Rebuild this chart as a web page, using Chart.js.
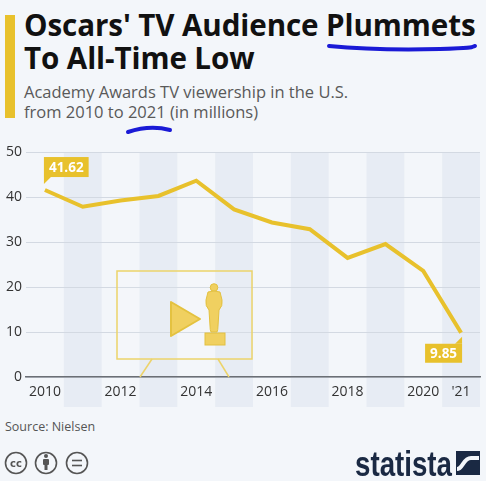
<!DOCTYPE html>
<html>
<head>
<meta charset="utf-8">
<script src="https://cdn.jsdelivr.net/npm/chart.js@4/dist/chart.umd.min.js"></script>
<style>
  html, body { margin: 0; padding: 0; }
  body {
    width: 486px; height: 481px; overflow: hidden;
    background: #f3f6fa; position: relative;
    font-family: "Open Sans", "Noto Sans", sans-serif;
  }
  .bar { position: absolute; left: 5px; top: 15px; width: 10px; height: 103px; background: #e8c12c; }
  h1 {
    position: absolute; left: 24px; top: 8px; margin: 0; white-space: nowrap;
    font-size: 29.6px; line-height: 33px; font-weight: 700; color: #111; letter-spacing: -0.1px;
  }
  .sub {
    position: absolute; left: 24px; top: 82px; margin: 0;
    font-size: 16.5px; line-height: 20px; color: #595959;
  }
  #wrap { position: absolute; left: 0; top: 140px; width: 486px; height: 270px; }
  .src { position: absolute; left: 5px; top: 418px; font-size: 12.5px; color: #555; }
  svg.over { position: absolute; left: 0; top: 0; pointer-events: none; }
</style>
</head>
<body>
<div class="bar"></div>
<h1>Oscars' TV Audience Plummets<br>To All-Time Low</h1>
<p class="sub">Academy Awards TV viewership in the U.S.<br>from 2010 to 2021 (in millions)</p>
<div id="wrap"><canvas id="chart" width="486" height="270"></canvas></div>
<div class="src">Source: Nielsen</div>

<svg class="over" width="486" height="481">
  <!-- hand drawn marks -->
  <path d="M329 46 C 360 49, 400 50, 440 49 S 470 47, 475 46" stroke="#1a1ad6" stroke-width="4" fill="none" stroke-linecap="round"/>
  <path d="M128 132 C 140 128, 155 126, 170 130" stroke="#1a1ad6" stroke-width="4" fill="none" stroke-linecap="round"/>

  <!-- TV illustration -->
  <g stroke="#ecd36a" fill="none" stroke-width="1.5">
    <rect x="117" y="271" width="135" height="88" fill="rgba(255,255,255,0.08)"/>
    <line x1="152" y1="359" x2="140" y2="377"/>
    <line x1="218" y1="359" x2="229" y2="377"/>
  </g>
  <path d="M171 302 L200 319 L171 336 Z" fill="#f0d060" stroke="#e4c240" stroke-width="2" stroke-linejoin="round"/>
  <g fill="#f0d060" stroke="#e2c040" stroke-width="1">
    <circle cx="214" cy="287.5" r="3.8"/>
    <path d="M208 292 Q214 290 220 292 L222 300 Q223 306 219 310 L218 326 Q218 330 217 332 L211 332 Q210 330 210 326 L209 310 Q205 306 206 300 Z"/>
    <rect x="205" y="333" width="20" height="12"/>
  </g>

  <!-- cc icons -->
  <g stroke="#555" stroke-width="1.6" fill="none">
    <circle cx="16" cy="463" r="10.5"/>
    <circle cx="46" cy="463" r="10.5"/>
    <circle cx="77" cy="463" r="10.5"/>
    <line x1="72" y1="460.5" x2="82" y2="460.5"/>
    <line x1="72" y1="465.5" x2="82" y2="465.5"/>
  </g>
  <text x="16" y="467" font-family="DejaVu Sans" font-size="10" font-weight="700" fill="#555" text-anchor="middle">cc</text>
  <g fill="#555">
    <circle cx="46" cy="456" r="2"/>
    <rect x="43" y="459" width="6" height="6" rx="1"/>
    <rect x="44.5" y="464" width="3" height="6"/>
  </g>

  <!-- statista logo -->
  <text x="355" y="476" font-family="Liberation Sans, Arial, sans-serif" font-weight="700" font-size="35"
        fill="#1a2943" textLength="97" lengthAdjust="spacingAndGlyphs">statista</text>
  <rect x="456" y="451" width="24" height="24" fill="#1a2943"/>
  <path d="M457 469 C 463 469, 463 458, 471 458 L 479 458" stroke="#f3f6fa" stroke-width="4" fill="none"/>
</svg>

<script>
const years = ["2010","2011","2012","2013","2014","2015","2016","2017","2018","2019","2020","2021"];
const tickLabels = ["2010","","2012","","2014","","2016","","2018","","2020","'21"];
const viewers = [41.62, 37.9, 39.3, 40.3, 43.7, 37.3, 34.4, 32.9, 26.5, 29.6, 23.6, 9.85];
const yTicks = [0, 10, 20, 30, 40, 50];

const yellow = "#e8c12c";

// shaded columns behind odd years, running down past the tick labels
const bandPlugin = {
  id: "bands",
  beforeDraw(chart) {
    const { ctx, chartArea, scales } = chart;
    const x = scales.x;
    const w = x.getPixelForValue(1) - x.getPixelForValue(0);
    ctx.save();
    ctx.fillStyle = "#e7ecf4";
    years.forEach((y, i) => {
      if (i % 2 === 1) {
        const cx = x.getPixelForValue(i);
        ctx.fillRect(cx - w / 2, chartArea.top, w, chart.height - 3 - chartArea.top);
      }
    });
    ctx.restore();
  }
};

// callout boxes for first and last value
const calloutPlugin = {
  id: "callouts",
  afterDatasetsDraw(chart) {
    const { ctx } = chart;
    const meta = chart.getDatasetMeta(0);
    ctx.save();
    ctx.font = "bold 13.5px 'Open Sans', sans-serif";
    ctx.textBaseline = "middle";

    // first point, label above-right
    let p = meta.data[0];
    let txt = viewers[0].toFixed(2);
    let tw = ctx.measureText(txt).width + 10;
    let bx = p.x - 1, by = p.y - 33, bh = 20;
    ctx.fillStyle = yellow;
    ctx.fillRect(bx, by, tw, bh);
    ctx.beginPath();
    ctx.moveTo(bx, by + bh);
    ctx.lineTo(bx + 7, by + bh);
    ctx.lineTo(bx, by + bh + 7);
    ctx.closePath();
    ctx.fill();
    ctx.fillStyle = "#fff";
    ctx.textAlign = "left";
    ctx.fillText(txt, bx + 5, by + bh / 2 + 1);

    // last point, label below-left
    const n = viewers.length - 1;
    p = meta.data[n];
    txt = viewers[n].toFixed(2);
    tw = ctx.measureText(txt).width + 10;
    bx = p.x - tw + 1; by = p.y + 11; bh = 19;
    ctx.fillStyle = yellow;
    ctx.fillRect(bx, by, tw, bh);
    ctx.beginPath();
    ctx.moveTo(bx + tw, by);
    ctx.lineTo(bx + tw - 7, by);
    ctx.lineTo(bx + tw, by - 7);
    ctx.closePath();
    ctx.fill();
    ctx.fillStyle = "#fff";
    ctx.fillText(txt, bx + 5, by + bh / 2 + 1);
    ctx.restore();
  }
};

new Chart(document.getElementById("chart"), {
  type: "line",
  data: {
    labels: years,
    datasets: [{
      data: viewers,
      borderColor: yellow,
      borderWidth: 4,
      pointRadius: 0,
      tension: 0,
      fill: false
    }]
  },
  options: {
    responsive: false,
    animation: false,
    layout: { padding: { top: 9, right: 6, left: 0, bottom: 0 } },
    plugins: { legend: { display: false }, tooltip: { enabled: false } },
    scales: {
      x: {
        offset: true,
        grid: { display: false, drawTicks: false },
        border: { display: true, color: "#6b6f75", width: 1.5 },
        ticks: {
          autoSkip: false, maxRotation: 0, padding: 7,
          color: "#333", font: { family: "Open Sans", size: 14 },
          callback: (v, i) => tickLabels[i]
        },
        afterFit: s => { s.height = 33; }
      },
      y: {
        min: 0, max: 50,
        afterBuildTicks: s => { s.ticks = yTicks.map(v => ({ value: v })); },
        grid: { color: "#d3d9e2", lineWidth: 1, drawTicks: false },
        border: { display: false },
        ticks: { padding: 4, color: "#333", font: { family: "Open Sans", size: 14 } },
        afterFit: s => { s.width = 26; }
      }
    }
  },
  plugins: [bandPlugin, calloutPlugin]
});
</script>
</body>
</html>
